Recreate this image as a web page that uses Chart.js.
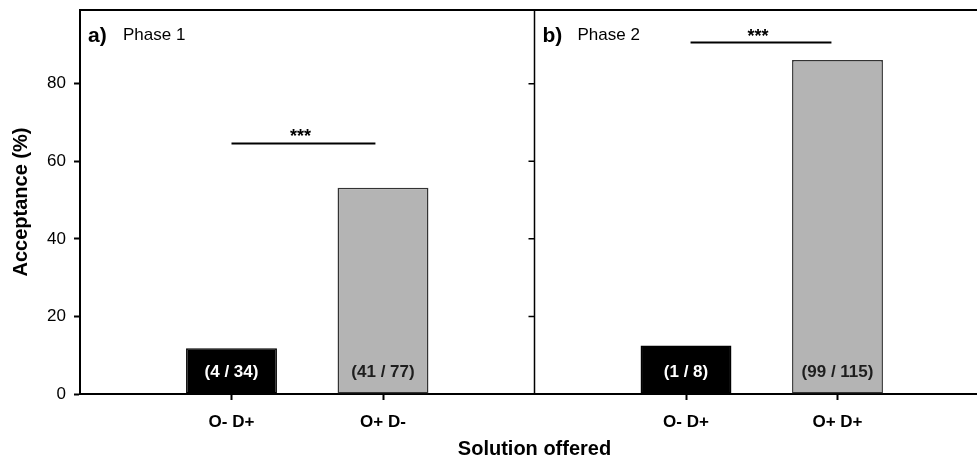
<!DOCTYPE html>
<html>
<head>
<meta charset="utf-8">
<script src="https://cdn.jsdelivr.net/npm/chart.js@4"></script>
<style>
  html, body { margin: 0; padding: 0; background: #fff; overflow: hidden; }
  #wrap { width: 990px; height: 461px; }
</style>
</head>
<body>
<div id="wrap"><canvas id="chart" width="990" height="461"></canvas></div>
<script>
// Acceptance per offered solution, two phases side by side on one linear x axis
const categories = ['O- D+', 'O+ D-', 'O- D+', 'O+ D+'];
const categoryX = [1, 2, 4, 5];
const acceptance = [11.8, 53.2, 12.5, 86.1];
const counts = ['(4 / 34)', '(41 / 77)', '(1 / 8)', '(99 / 115)'];
const barColors = ['#000000', '#b4b4b4', '#000000', '#b4b4b4'];
const countColors = ['#ffffff', '#1e1e1e', '#ffffff', '#1e1e1e'];

const panelLetters = ['a)', 'b)'];
const panelNames = ['Phase 1', 'Phase 2'];
const panelStart = [0, 3];

// significance brackets
const sigFrom = [1.0, 4.03];
const sigTo = [1.95, 4.96];
const sigLevel = [64.6, 90.6];
const sigText = ['***', '***'];

const yTicks = [0, 20, 40, 60, 80];

const FONT = '"Liberation Sans", Arial, sans-serif';

// Draws frame pieces, divider, bar counts, brackets and panel labels
const decorations = {
  id: 'decorations',
  afterDatasetsDraw(chart) {
    const { ctx, chartArea, scales: { x, y } } = chart;
    ctx.save();
    ctx.strokeStyle = '#000';
    ctx.fillStyle = '#000';

    // top frame line
    ctx.lineWidth = 2;
    ctx.beginPath();
    ctx.moveTo(chartArea.left - 1, chartArea.top);
    ctx.lineTo(chartArea.right, chartArea.top);
    ctx.stroke();

    // divider between the panels, with outward ticks
    const dx = x.getPixelForValue(panelStart[1]);
    ctx.lineWidth = 1.5;
    ctx.beginPath();
    ctx.moveTo(dx, chartArea.top);
    ctx.lineTo(dx, chartArea.bottom);
    yTicks.slice(1).forEach(v => {
      const py = y.getPixelForValue(v);
      ctx.moveTo(dx - 6, py);
      ctx.lineTo(dx, py);
    });
    ctx.stroke();

    // n / N inside bars
    ctx.font = 'bold 17px ' + FONT;
    ctx.textAlign = 'center';
    ctx.textBaseline = 'middle';
    const base = y.getPixelForValue(0);
    categoryX.forEach((cx, i) => {
      ctx.fillStyle = countColors[i];
      ctx.fillText(counts[i], x.getPixelForValue(cx), base - 22);
    });

    // significance brackets
    ctx.fillStyle = '#000';
    ctx.lineWidth = 2;
    sigLevel.forEach((lv, i) => {
      const py = y.getPixelForValue(lv);
      const x0 = x.getPixelForValue(sigFrom[i]);
      const x1 = x.getPixelForValue(sigTo[i]);
      ctx.beginPath();
      ctx.moveTo(x0, py);
      ctx.lineTo(x1, py);
      ctx.stroke();
      ctx.font = 'bold 18px ' + FONT;
      ctx.textBaseline = 'alphabetic';
      ctx.fillText(sigText[i], (x0 + x1) / 2 - 3, py - 1);
    });

    // panel labels
    ctx.textAlign = 'left';
    ctx.textBaseline = 'alphabetic';
    panelStart.forEach((ps, i) => {
      const px = x.getPixelForValue(ps);
      ctx.font = 'bold 21px ' + FONT;
      ctx.fillText(panelLetters[i], px + 8, chartArea.top + 32);
      ctx.font = '17px ' + FONT;
      ctx.fillText(panelNames[i], px + 43, chartArea.top + 30);
    });

    ctx.restore();
  }
};

new Chart(document.getElementById('chart'), {
  type: 'bar',
  data: {
    datasets: [{
      data: categoryX.map((cx, i) => ({ x: cx, y: acceptance[i] })),
      backgroundColor: barColors,
      borderColor: ['#000', '#333', '#000', '#333'],
      borderWidth: 1.5,
      borderSkipped: false,
      barPercentage: 0.6,
      categoryPercentage: 1.0
    }]
  },
  options: {
    responsive: false,
    animation: false,
    layout: { padding: { top: 10, right: 1, left: 0, bottom: 0 } },
    plugins: {
      legend: { display: false },
      tooltip: { enabled: false }
    },
    scales: {
      x: {
        type: 'linear',
        min: 0,
        max: 6,
        offset: false,
        afterBuildTicks(scale) {
          scale.ticks = categoryX.map(v => ({ value: v }));
        },
        afterFit(scale) {
          scale.height = 67;
          scale.paddingLeft = 0;
          scale.paddingRight = 0;
        },
        ticks: {
          autoSkip: false,
          maxRotation: 0,
          padding: 12,
          color: '#000',
          font: { family: FONT, size: 17, weight: 'bold' },
          callback: (v, i) => categories[i]
        },
        grid: {
          offset: false,
          drawOnChartArea: false,
          drawTicks: true,
          tickLength: 6,
          tickWidth: 2,
          color: '#000'
        },
        border: { display: true, color: '#000', width: 2 },
        title: {
          display: true,
          text: 'Solution offered',
          color: '#000',
          font: { family: FONT, size: 20, weight: 'bold' },
          padding: { top: 4, bottom: 0 }
        }
      },
      y: {
        min: 0,
        max: 99,
        afterBuildTicks(scale) {
          scale.ticks = yTicks.map(v => ({ value: v }));
        },
        afterFit(scale) {
          scale.width = 80;
          scale.paddingTop = 0;
          scale.paddingBottom = 0;
        },
        ticks: {
          padding: 8,
          color: '#000',
          font: { family: FONT, size: 17 }
        },
        grid: {
          drawOnChartArea: false,
          drawTicks: true,
          tickLength: 6,
          tickWidth: 2,
          color: '#000'
        },
        border: { display: true, color: '#000', width: 2 },
        title: {
          display: true,
          text: 'Acceptance (%)',
          color: '#000',
          font: { family: FONT, size: 20, weight: 'bold' },
          padding: { top: 9, bottom: 0 }
        }
      }
    }
  },
  plugins: [decorations]
});
</script>
</body>
</html>
